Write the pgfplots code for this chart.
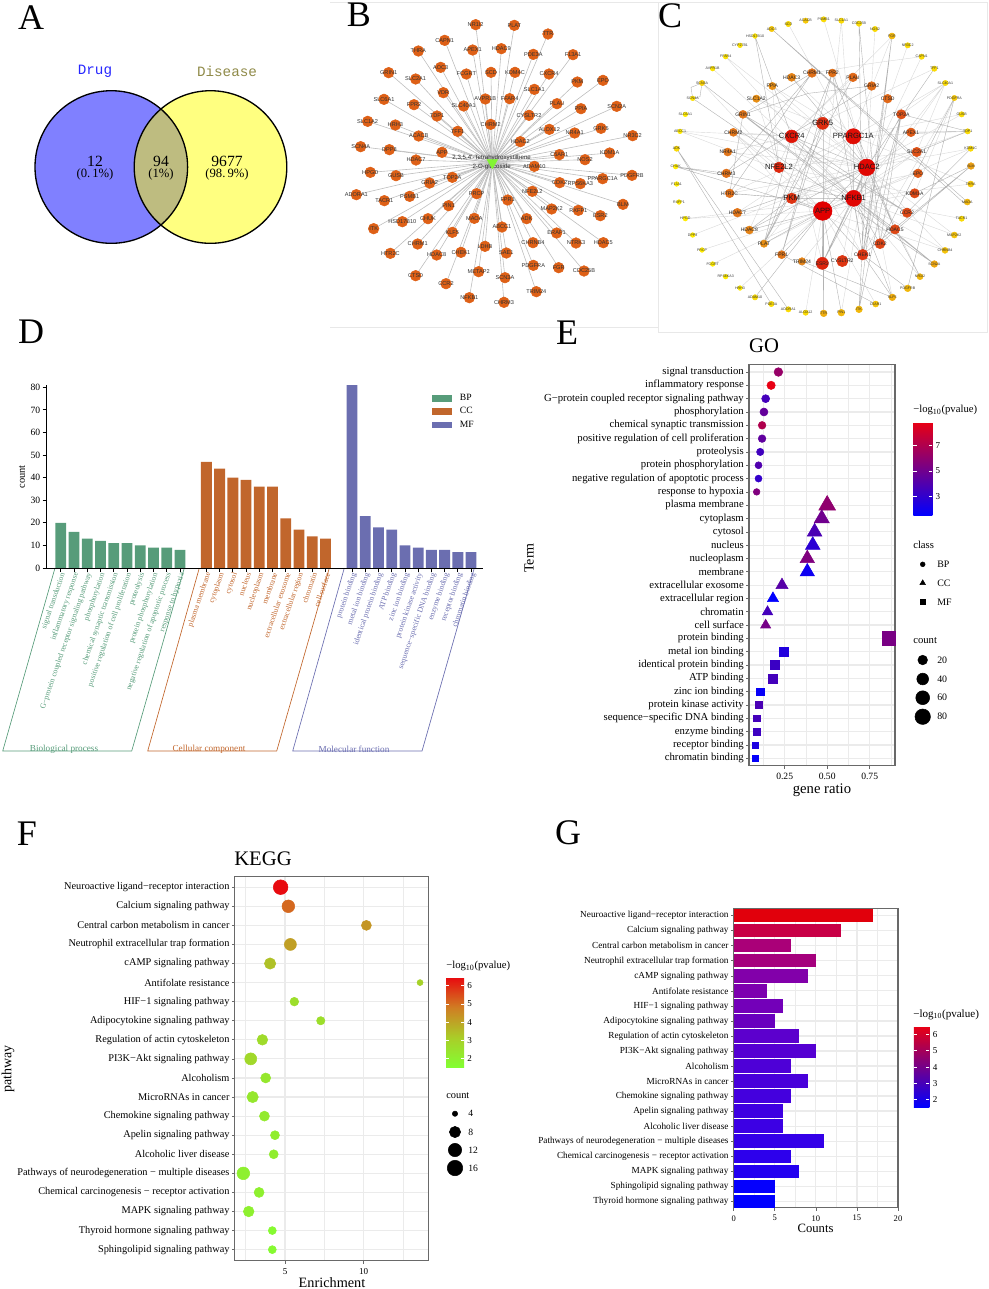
\documentclass[border=0pt]{standalone}
\usepackage{fontspec}
\usepackage{pgfplots}
\usepackage{pgfplotstable}
\pgfplotsset{compat=1.18}
\setmainfont{Liberation Serif}
\setsansfont{Liberation Sans}
\setmonofont{Liberation Mono}
\newcommand\fs[1]{\fontsize{#1}{#1}\selectfont}
\definecolor{bpc}{RGB}{87,156,122}
\definecolor{ccc}{RGB}{193,102,44}
\definecolor{mfc}{RGB}{107,110,176}
\definecolor{edgeB}{RGB}{190,190,190}
\definecolor{nodeB}{RGB}{222,96,22}
\definecolor{gridc}{RGB}{235,235,235}
\definecolor{framec}{RGB}{105,105,105}
\definecolor{frameL}{RGB}{232,232,232}
\definecolor{vennL}{RGB}{128,128,255}
\definecolor{vennR}{RGB}{255,255,128}
\definecolor{vennM}{RGB}{190,188,128}

% panel: x, y of the top left corner, width, height, all in reference pixels
\pgfplotsset{
  /pgf/number format/assume math mode=true,
  panel/.style n args={4}{at={(#1*0.75pt,-#2*0.75pt)},anchor=north west,
    width={#3*0.75pt},height={#4*0.75pt},scale only axis},
  net/.style={hide axis,clip=false,y dir=reverse},
  gg/.style={axis line style={framec,line width=0.9pt},
    tick style={framec,line width=0.5pt},major tick length=2.2pt,minor tick length=0pt,
    tick align=outside,xtick pos=bottom,ytick pos=left,
    grid style={gridc,line width=0.9pt},minor grid style={gridc,line width=0.4pt},
    xmajorgrids,ymajorgrids,xminorgrids,y dir=reverse},
  mk/.style={scatter,only marks,mark=#1,point meta=\thisrow{m},
    scatter/use mapped color={draw=mapped color,fill=mapped color},
    visualization depends on={\thisrow{s} \as \sz},
    scatter/@pre marker code/.append style={/tikz/mark size={\sz*0.25}}},
  lbl/.style n args={2}{only marks,mark=none,nodes near coords,point meta=explicit symbolic,
    nodes near coords style={anchor=center,inner sep=0pt,text=black!#2,font=\sffamily\fs{#1}}},
  dbar/.style={ybar,bar shift=0pt,bar width=8.1pt,draw=none,fill=#1,
    legend image code/.code={\fill[#1] (0pt,-2.5pt) rectangle (14.7pt,2.5pt);}},
  gbar/.style n args={2}{xbar,bar shift=0pt,bar width=10pt,draw=none,fill={rgb,255:red,#1;green,0;blue,#2}},
  cbar/.style={scale only axis,axis line style={draw=none},tick align=inside,
    ytick pos=both,yticklabel pos=right,tick style={white,line width=0.4pt},
    major tick length=2.5pt,yticklabel style={font=\fs{6.8},xshift=-1pt}},
}
\pgfplotsset{colormap={bluered}{rgb255=(0,0,255) rgb255=(232,0,20)}}
\pgfplotsset{colormap={greenred}{rgb255=(130,255,50) rgb255=(170,205,40) rgb255=(208,125,35) rgb255=(232,10,15)}}
\pgfplotsset{colormap={heat}{rgb255=(255,235,0) rgb255=(225,120,25) rgb255=(220,60,20) rgb255=(225,0,0)}}

\pgfplotstableread{
x y name
437 74 NR1I2
553 76 PLAT
654 102 TTR
344 121 CAPN1
428 150 APEX1
514 146 HDAC9
610 163 PDE3A
729 164 F13A1
265 153 THRA
332 202 AOC3
409 222 FCGRT
483 217 SCD
555 217 KDM4C
657 222 CXCR4
176 218 GRIN1
257 237 SLC2A1
819 241 EPO
742 246 PKM
613 268 SLC1A1
340 278 VDR
466 297 AVPR1B
539 296 FFAR4
681 311 PLAU
162 298 SLC6A1
252 314 FPR2
401 318 SLC40A1
753 326 PPIA
860 319 SCN2A
597 346 CYSLTR2
321 348 TDP1
482 373 CHRM2
113 364 SLC1A2
196 375 HRH3
383 394 TFF1
658 388 ALOX12
734 399 NR4A1
813 385 GRK5
266 408 ACACB
571 425 HDAC2
908 407 NR3C2
92 440 SCN4A
178 449 DPP8
336 457 APP
688 464 C5AR1
765 479 NOS2
839 459 KDM1A
258 480 HDAC7
613 499 ADAM10
906 526 PDGFRB
121 517 HPGD
198 527 GUSB
367 532 TOP2A
818 536 PPARGC1A
689 548 CDK2
751 551 RPS6KA3
299 549 GRIA2
79 584 ADORA1
163 602 TACR1
239 589 PSMB1
440 581 PRCP
607 574 NFE2L2
533 600 FPR1
879 613 BLM
356 617 PIN1
665 627 MAP2K2
745 631 RXFP1
811 647 ESR2
217 665 HSD17B10
294 656 CHUK
433 655 MAOA
516 681 ABCC1
590 656 ADK
131 686 ITK
367 697 KLF5
680 699 ERAP1
738 729 NTRK3
820 728 HDAC5
263 732 CHRM1
181 760 HTR2C
320 765 HDAC8
393 757 CHEK1
465 739 LDHB
529 759 SAE1
609 728 CHRNB4
610 796 PDGFRA
686 803 FGR
762 813 CDC25B
257 827 CTSD
348 851 CCR2
446 815 METAP2
525 833 SCN3A
619 875 TRIM24
418 893 NFKB1
522 907 CHRM3
}\Bnodes

\pgfplotstableread{
x y name m s
350 87 AOC3 0.1 8
400 72 SCD 0.05 8
452 62 ACACB 0.1 8
506 58 PSMB1 0.05 8
559 62 SLC1A1 0.05 8
612 71 CDC25B 0.05 8
660 87 NOS2 0.05 8
711 108 FGR 0.15 9
758 136 NR3C2 0.05 8
800 170 CAPN1 0.05 8
838 206 TFF1 0.05 8
871 249 SLC40A1 0.05 8
898 294 PDGFRA 0.1 8
920 343 GUSB 0.05 8
938 394 TDP1 0.05 8
947 446 KDM4C 0.05 8
948 498 BLM 0.22 10
947 552 THRA 0.1 9
937 606 MAOA 0.15 9
920 656 TACR1 0.05 8
898 705 MAP2K2 0.12 9
870 751 CHRNB4 0.12 9
838 792 SCN2A 0.2 10
795 830 NR1I2 0.15 9
758 865 PDGFRB 0.15 10
712 892 KLF5 0.18 10
662 912 C5AR1 0.12 9
612 928 ITK 0.15 10
559 938 PIN1 0.15 10
506 940 TTR 0.18 10
452 938 ALOX12 0.05 8
400 928 ADORA1 0.05 8
349 912 PDE3A 0.05 8
300 892 ADAM10 0.05 8
255 864 HRH3 0 7
212 830 RPS6KA3 0 7
173 792 FCGRT 0 7
141 750 PRCP 0 7
113 705 DPP8 0 7
91 656 HPGD 0 7
72 606 RXFP1 0 7
65 552 F13A1 0 7
62 500 CHUK 0 7
65 446 ADK 0.05 8
75 394 ABCC1 0 7
91 343 SLC6A1 0 7
113 295 SCN4A 0.03 7
141 249 SCN3A 0.08 8
173 206 AVPR1B 0.03 7
212 170 FFAR4 0.03 7
255 136 CYP27B1 0.03 7
300 108 HSD17B10 0.03 7
}\Cring

\pgfplotstableread{
x y name m s
471 219 CHRM1 0.38 13
532 219 FPR2 0.38 12
594 232 PLAU 0.42 13
650 258 GRIA2 0.4 13
698 296 CTSD 0.42 13
739 343 TOP2A 0.55 14
768 397 APEX1 0.5 13
785 456 SLC2A1 0.55 14
789 520 EPO 0.5 13
779 580 KDM1A 0.6 14
756 638 CCR2 0.6 14
720 688 HDAC5 0.6 14
675 731 CDK2 0.62 15
623 764 CHEK1 0.7 16
562 783 CYSLTR2 0.7 17
502 790 ESR2 0.8 18
441 784 TRIM24 0.3 11
380 764 FPR1 0.35 12
327 731 PLAT 0.27 11
283 690 HDAC8 0.3 12
247 638 HDAC7 0.35 13
224 580 HTR2C 0.38 13
214 520 CHRM3 0.38 13
218 456 NR4A1 0.35 12
235 397 CHRM2 0.35 12
264 343 GRIN1 0.35 12
304 296 SLC1A2 0.27 11
352 258 PPIA 0.27 11
410 232 HDAC3 0.3 12
}\Cinner

\pgfplotstableread{
x y name m s
503 370 GRK5 0.75 18
410 409 CXCR4 0.88 19
595 409 PPARGC1A 0.92 23
372 502 NFE2L2 0.78 16
635 502 HDAC2 0.96 25
410 595 PKM 0.72 16
596 595 NFKB1 0.97 24
503 633 APP 1 28
}\Chubs

\pgfplotstableread{
x y m s
0.213 1 6.2 13
0.170 2 8.8 12.5
0.138 3 3.6 12
0.128 4 4.6 12
0.117 5 7.0 11.5
0.117 6 4.5 11.5
0.106 7 3.5 11
0.096 8 4.0 10.5
0.096 9 3.1 10.5
0.085 10 5.5 10
}\Ebp
\pgfplotstableread{
x y m s
0.500 11 6.0 29
0.468 12 5.0 26.5
0.426 13 3.8 25.4
0.415 14 2.8 25.4
0.383 15 5.5 25
0.383 16 1.9 25
0.234 17 4.2 21
0.181 18 1.5 19.5
0.149 19 3.6 18
0.138 20 5.2 17.5
}\Ecc
\pgfplotstableread{
x y m s
0.862 21 5.3 20
0.245 22 2.5 14.5
0.191 23 3.3 14
0.181 24 3.6 13.5
0.106 25 1.7 11
0.096 26 3.8 10.5
0.085 27 3.6 10
0.085 28 3.4 10
0.074 29 2.4 9
0.074 30 1.6 9
}\Emf

\pgfplotstableread{
x y m s
4.72 1 6.46 22
5.21 2 5.1 19
10.17 3 4.3 15
5.34 4 4.1 18
4.05 5 3.4 17
13.58 6 3.0 9
5.59 7 2.6 13
7.27 8 2.6 12.5
3.56 9 2.7 16
2.82 10 2.8 18
3.77 11 2.3 15
2.94 12 2.3 17
3.69 13 2.2 15
4.36 14 2.1 13.5
4.28 15 2.1 13.5
2.35 16 2.0 19
3.35 17 2.0 15
2.69 18 2.0 16
4.19 19 1.7 12
4.19 20 1.7 12
}\Fdata

\begin{document}
\begin{tikzpicture}
\path[use as bounding box] (0,0) rectangle (989*0.75pt,-1289*0.75pt);

% whole page in reference pixels: venn, frames, legends, free text
\begin{axis}[panel={0}{0}{989}{1289},net,xmin=0,xmax=989,ymin=0,ymax=1289]
  \fill[vennL] (axis cs:111.3,167) circle [radius=76.3];
  \fill[vennR] (axis cs:210.5,167) circle [radius=76.3];
  \begin{scope}
    \clip (axis cs:111.3,167) circle [radius=76.3];
    \fill[vennM] (axis cs:210.5,167) circle [radius=76.3];
  \end{scope}
  \draw[line width=1pt] (axis cs:111.3,167) circle [radius=76.3];
  \draw[line width=1pt] (axis cs:210.5,167) circle [radius=76.3];
  \node[text=blue!85!white,font=\ttfamily\fs{10.7}] at (axis cs:95,71) {Drug};
  \node[text=yellow!50!black,font=\ttfamily\fs{10.7}] at (axis cs:227,71) {Disease};
  \node[font=\fs{11.7}] at (axis cs:95,161) {12};
  \node[font=\fs{9.5}] at (axis cs:95,174) {(0.\,1\%)};
  \node[font=\fs{11.7}] at (axis cs:161,161) {94};
  \node[font=\fs{9.5}] at (axis cs:161,174) {(1\%)};
  \node[font=\fs{11.7}] at (axis cs:227,161) {9677};
  \node[font=\fs{9.5}] at (axis cs:227,174) {(98.\,9\%)};

  \draw[frameL,line width=0.6pt] (axis cs:330,2) -- (axis cs:658,2) -- (axis cs:658,327) -- (axis cs:330,327);
  \draw[frameL,line width=0.6pt] (axis cs:658,2) rectangle (axis cs:987,332);

  % panel letters
  \node[font=\fs{27}] at (axis cs:31,18) {A};
  \node[font=\fs{27}] at (axis cs:359,15) {B};
  \node[font=\fs{27}] at (axis cs:670,16) {C};
  \node[font=\fs{27}] at (axis cs:31,332) {D};
  \node[font=\fs{27}] at (axis cs:567,333) {E};
  \node[font=\fs{27}] at (axis cs:27,834) {F};
  \node[font=\fs{27}] at (axis cs:568,833) {G};

  % D: boxes below the categories
  \draw[bpc,line width=0.5pt] (axis cs:55,568) -- (axis cs:2.7,751) -- (axis cs:131.7,751) -- (axis cs:184.3,568);
  \draw[ccc,line width=0.5pt] (axis cs:199.3,568) -- (axis cs:147.7,751) -- (axis cs:276.7,751) -- (axis cs:329.3,568);
  \draw[mfc,line width=0.5pt] (axis cs:344.3,568) -- (axis cs:292.7,751) -- (axis cs:422,751) -- (axis cs:474.3,568);
  \node[text=bpc,font=\fs{6.9}] at (axis cs:64,749.5) {Biological process};
  \node[text=ccc,font=\fs{6.9}] at (axis cs:209,749.5) {Cellular component};
  \node[text=mfc,font=\fs{6.9}] at (axis cs:354,749.5) {Molecular function};
  \node[rotate=90,font=\fs{7.8}] at (axis cs:22,477) {count};

  % E: title, axis labels, legends
  \node[font=\fs{15.5}] at (axis cs:764,346) {GO};
  \node[font=\fs{11}] at (axis cs:822,790) {gene ratio};
  \node[rotate=90,font=\fs{10.5}] at (axis cs:529,558) {Term};
  \node[anchor=west,inner xsep=0pt,font=\fs{8}] at (axis cs:913,410) {−log\textsubscript{10}(pvalue)};
  \node[anchor=west,inner xsep=0pt,font=\fs{8}] at (axis cs:913,545) {class};
  \node[anchor=west,inner xsep=0pt,font=\fs{8}] at (axis cs:913,641) {count};
  \addplot[only marks,mark=*,mark size=1.8pt,black] coordinates {(922.7,564.3)};
  \addplot[only marks,mark=triangle*,mark size=2.4pt,black] coordinates {(922.7,583)};
  \addplot[only marks,mark=square*,mark size=1.7pt,black] coordinates {(922.7,602)};
  \node[anchor=west,inner xsep=0pt,font=\fs{7.4}] at (axis cs:937,564.3) {BP};
  \node[anchor=west,inner xsep=0pt,font=\fs{7.4}] at (axis cs:937,583) {CC};
  \node[anchor=west,inner xsep=0pt,font=\fs{7.4}] at (axis cs:937,602) {MF};
  \addplot[only marks,mark=*,mark size=3.6pt,black] coordinates {(922.7,660)};
  \addplot[only marks,mark=*,mark size=4.4pt,black] coordinates {(922.7,679)};
  \addplot[only marks,mark=*,mark size=5.2pt,black] coordinates {(922.7,697.7)};
  \addplot[only marks,mark=*,mark size=5.8pt,black] coordinates {(922.7,716.7)};
  \node[anchor=west,inner xsep=0pt,font=\fs{7.4}] at (axis cs:937,660) {20};
  \node[anchor=west,inner xsep=0pt,font=\fs{7.4}] at (axis cs:937,679) {40};
  \node[anchor=west,inner xsep=0pt,font=\fs{7.4}] at (axis cs:937,697.7) {60};
  \node[anchor=west,inner xsep=0pt,font=\fs{7.4}] at (axis cs:937,716.7) {80};

  % F: title, axis labels, legends
  \node[font=\fs{15.5}] at (axis cs:263,859) {KEGG};
  \node[font=\fs{10.7}] at (axis cs:332,1283) {Enrichment};
  \node[rotate=90,font=\fs{10.5}] at (axis cs:8,1069) {pathway};
  \node[anchor=west,inner xsep=0pt,font=\fs{8}] at (axis cs:446,966) {−log\textsubscript{10}(pvalue)};
  \node[anchor=west,inner xsep=0pt,font=\fs{7.8}] at (axis cs:446,1096) {count};
  \addplot[only marks,mark=*,mark size=2pt,black] coordinates {(455,1113.7)};
  \addplot[only marks,mark=*,mark size=4.2pt,black] coordinates {(455,1132)};
  \addplot[only marks,mark=*,mark size=5pt,black] coordinates {(455,1150)};
  \addplot[only marks,mark=*,mark size=5.8pt,black] coordinates {(455,1168)};
  \node[anchor=west,inner xsep=0pt,font=\fs{7.2}] at (axis cs:468,1113.7) {4};
  \node[anchor=west,inner xsep=0pt,font=\fs{7.2}] at (axis cs:468,1132) {8};
  \node[anchor=west,inner xsep=0pt,font=\fs{7.2}] at (axis cs:468,1150) {12};
  \node[anchor=west,inner xsep=0pt,font=\fs{7.2}] at (axis cs:468,1168) {16};

  % G
  \node[font=\fs{9.5}] at (axis cs:815.5,1228) {Counts};
  \node[anchor=west,inner xsep=0pt,font=\fs{8.3}] at (axis cs:913,1014.5) {−log\textsubscript{10}(pvalue)};
\end{axis}

% B: coordinates are those of the 3x crop
\begin{axis}[panel={330}{0}{330}{330},net,xmin=0,xmax=990,ymin=0,ymax=990]
  \addplot[edgeB,line width=0.45pt,no markers,quiver={u=487-\thisrow{x},v=488-\thisrow{y}}]
    table[x=x,y=y] {\Bnodes};
  \addplot[only marks,mark=*,mark size=4pt,nodeB] table[x=x,y=y] {\Bnodes};
  \addplot[lbl={4.2}{80}] table[x=x,y=y,meta=name] {\Bnodes};
  \addplot[only marks,mark=triangle*,mark size=4.5pt,mark options={rotate=180},
    color={rgb,255:red,130;green,245;blue,50}] coordinates {(487,488)};
  \node[font=\sffamily\fs{4.6},text=black!85] at (axis cs:485,474) {2,3,5,4'-Tetrahydroxystilbene};
  \node[font=\sffamily\fs{4.6},text=black!85] at (axis cs:485,502) {2-O-glucoside};
\end{axis}

% C: coordinates are those of the 3x crop
\begin{axis}[panel={655}{0}{334}{335},net,xmin=0,xmax=1002,ymin=0,ymax=1005,
    colormap name=heat,point meta min=0,point meta max=1]
  % weak interactions
  \addplot[black!15,line width=0.3pt,no markers,line join=bevel,unbounded coords=jump] coordinates {
    (596,595)(212,170)(596,595)(173,206)(596,595)(75,394)(596,595)(91,656)(596,595)(898,705)
    (596,595)(920,656)(596,595)(947,552)(596,595)(871,249)(596,595)(758,136)(596,595)(559,62)
    (596,595)(800,170)(596,595)(785,456)(596,595)(768,397)(596,595)(789,520)(596,595)(947,446)
    (596,595)(327,731)(596,595)(441,784)(596,595)(562,783)(596,595)(870,751)(596,595)(795,830)
    (nan,nan)
    (635,502)(352,258)(635,502)(304,296)(635,502)(218,456)(635,502)(235,397)(635,502)(224,580)
    (635,502)(660,87)(635,502)(506,58)(635,502)(920,343)(635,502)(938,394)(635,502)(947,446)
    (635,502)(898,705)(635,502)(870,751)(635,502)(795,830)(635,502)(712,892)(635,502)(559,938)
    (635,502)(400,72)(635,502)(212,170)(635,502)(73,394)(635,502)(113,705)
    (nan,nan)
    (503,633)(218,456)(503,633)(235,397)(503,633)(91,656)(503,633)(141,750)(503,633)(173,792)
    (503,633)(785,456)(503,633)(789,520)(503,633)(779,580)(503,633)(870,751)(503,633)(662,912)
    (503,633)(452,938)(503,633)(255,864)(503,633)(141,249)(503,633)(559,62)(503,633)(711,108)
    (nan,nan)
    (595,409)(304,296)(595,409)(352,258)(595,409)(410,232)(595,409)(871,249)(595,409)(938,394)
    (595,409)(920,343)(595,409)(947,552)(595,409)(327,731)(595,409)(224,580)(595,409)(247,638)
    (nan,nan)
    (410,409)(712,108)(410,409)(594,232)(410,409)(838,206)(410,409)(218,456)(410,409)(75,394)
    (410,409)(235,397)(410,409)(283,690)(410,409)(502,790)(410,409)(623,764)
    (nan,nan)
    (800,170)(650,190)(471,219)(nan,nan)
    (871,249)(739,343)(871,249)(768,397)(871,249)(785,456)(nan,nan)
    (898,294)(779,580)(898,294)(623,764)(nan,nan)
    (372,502)(235,397)(372,502)(304,296)(372,502)(785,456)(372,502)(779,580)(372,502)(352,258)
    (nan,nan)
    (410,595)(785,456)(410,595)(789,520)(410,595)(224,580)(410,595)(235,397)(410,595)(675,731)
  };
  % strong interactions
  \addplot[black!30,line width=0.3pt,no markers,line join=bevel,unbounded coords=jump] coordinates {
    (65,446)(349,912)(nan,nan)(65,446)(400,928)(nan,nan)
    (62,500)(596,595)(62,500)(503,633)(nan,nan)
    (113,295)(838,792)(nan,nan)(141,249)(838,792)(nan,nan)
    (141,249)(108,262)(113,295)(nan,nan)(141,249)(135,290)(113,295)(nan,nan)
    (264,343)(756,638)(264,343)(596,595)(nan,nan)
    (350,87)(937,606)(nan,nan)(350,87)(930,612)(nan,nan)
    (300,108)(410,409)(300,108)(372,502)(nan,nan)
    (612,71)(675,731)(612,71)(623,764)(nan,nan)
    (711,108)(612,928)(711,108)(623,764)(nan,nan)
    (898,294)(758,865)(nan,nan)(898,294)(675,731)(nan,nan)
    (948,498)(623,764)(948,498)(675,731)(nan,nan)
    (471,219)(214,520)(471,219)(264,343)(471,219)(224,580)(nan,nan)
    (532,219)(327,731)(532,219)(380,764)(532,219)(720,688)(532,219)(623,764)(nan,nan)
    (503,370)(327,731)(503,370)(380,764)(nan,nan)
    (594,232)(327,731)(nan,nan)
    (650,258)(460,280)(264,343)(nan,nan)(650,258)(214,520)(nan,nan)
    (698,296)(623,764)(nan,nan)
    (739,343)(612,928)(739,343)(675,731)(739,343)(502,790)(739,343)(623,764)(nan,nan)
    (739,343)(938,394)(nan,nan)(768,397)(938,394)(nan,nan)(785,456)(938,394)(nan,nan)
    (838,206)(635,502)(nan,nan)
    (503,633)(502,790)(503,633)(506,940)(503,633)(559,938)(503,633)(300,892)(503,633)(380,764)
    (503,633)(283,690)(503,633)(327,731)(503,633)(623,764)(nan,nan)
    (596,595)(838,792)(596,595)(720,688)(596,595)(675,731)(596,595)(623,764)(596,595)(502,790)
    (596,595)(410,595)(596,595)(503,633)(596,595)(635,502)(596,595)(595,409)(596,595)(712,892)(nan,nan)
    (635,502)(720,688)(635,502)(247,638)(635,502)(283,690)(635,502)(410,232)(635,502)(410,409)
    (635,502)(595,409)(635,502)(503,633)(635,502)(502,790)(635,502)(612,928)(nan,nan)
    (410,595)(503,633)(410,595)(283,690)(410,595)(224,580)(nan,nan)
    (214,520)(62,500)(nan,nan)
    (410,409)(327,731)(410,409)(596,595)(410,409)(756,638)(nan,nan)
    (623,764)(712,892)(623,764)(758,865)(nan,nan)
    (441,784)(712,892)(nan,nan)(380,764)(662,912)(nan,nan)
    (795,830)(720,688)(nan,nan)
    (506,370)(506,940)(nan,nan)
    (264,343)(224,580)(nan,nan)(214,520)(650,258)(nan,nan)
    (779,580)(948,498)(nan,nan)(756,638)(947,446)
  };
  \addplot[mk=*] table[x=x,y=y] {\Cring};
  \addplot[mk=*] table[x=x,y=y] {\Cinner};
  \addplot[mk=*] table[x=x,y=y] {\Chubs};
  \addplot[lbl={2.7}{80}] table[x=x,y=y,meta=name] {\Cring};
  \addplot[lbl={3.8}{85}] table[x=x,y=y,meta=name] {\Cinner};
  \addplot[lbl={5.7}{90}] table[x=x,y=y,meta=name] {\Chubs};
\end{axis}

% D
\begin{axis}[panel={46.5}{385}{436.5}{183},xmin=-1.08,xmax=31.9,ymin=0,ymax=81,
    axis x line=bottom,axis y line=left,axis line style={-,line width=0.7pt},
    tick style={black,line width=0.6pt},major tick length=3pt,tick align=outside,
    xtick={0,...,9,11,12,...,20,22,23,...,31},
    xticklabels={\textcolor{bpc}{signal transduction},\textcolor{bpc}{inflammatory response},
      \textcolor{bpc}{G−protein coupled receptor signaling pathway},\textcolor{bpc}{phosphorylation},
      \textcolor{bpc}{chemical synaptic transmission},\textcolor{bpc}{positive regulation of cell proliferation},
      \textcolor{bpc}{proteolysis},\textcolor{bpc}{protein phosphorylation},
      \textcolor{bpc}{negative regulation of apoptotic process},\textcolor{bpc}{response to hypoxia},
      \textcolor{ccc}{plasma membrane},\textcolor{ccc}{cytoplasm},\textcolor{ccc}{cytosol},\textcolor{ccc}{nucleus},
      \textcolor{ccc}{nucleoplasm},\textcolor{ccc}{membrane},\textcolor{ccc}{extracellular exosome},
      \textcolor{ccc}{extracellular region},\textcolor{ccc}{chromatin},\textcolor{ccc}{cell surface},
      \textcolor{mfc}{protein binding},\textcolor{mfc}{metal ion binding},\textcolor{mfc}{identical protein binding},
      \textcolor{mfc}{ATP binding},\textcolor{mfc}{zinc ion binding},\textcolor{mfc}{protein kinase activity},
      \textcolor{mfc}{sequence−specific DNA binding},\textcolor{mfc}{enzyme binding},
      \textcolor{mfc}{receptor binding},\textcolor{mfc}{chromatin binding}},
    xticklabel style={rotate=71,anchor=east,font=\fs{5.8},inner sep=1pt,xshift=1pt,yshift=-2pt},
    ytick={0,10,...,80},yticklabel style={font=\fs{7.2},inner sep=1.5pt},
    legend style={at={(axis cs:28.05,78.3)},anchor=north west,draw=none,fill=none,
      font=\fs{7.2},row sep=-0.2pt,inner sep=0pt,
      /tikz/every odd column/.append style={column sep=4pt}},legend cell align=left]
  \addplot[dbar=bpc] coordinates {(0,20)(1,16)(2,13)(3,12)(4,11)(5,11)(6,10)(7,9)(8,9)(9,8)};
  \addlegendentry{BP}
  \addplot[dbar=ccc] coordinates {(11,47)(12,44)(13,40)(14,39)(15,36)(16,36)(17,22)(18,17)(19,14)(20,13)};
  \addlegendentry{CC}
  \addplot[dbar=mfc] coordinates {(22,81)(23,23)(24,18)(25,17)(26,10)(27,9)(28,8)(29,8)(30,7)(31,7)};
  \addlegendentry{MF}
\end{axis}

% E
\begin{axis}[panel={749}{364.3}{146}{401.4},gg,xmin=0.04,xmax=0.899,ymin=0.42,ymax=30.56,
    xtick={0.25,0.5,0.75},minor xtick={0.125,0.375,0.625,0.875},
    xticklabel style={font=\fs{7.2},/pgf/number format/.cd,fixed,fixed zerofill,precision=2},
    ytick={1,...,30},
    yticklabels={signal transduction,inflammatory response,G−protein coupled receptor signaling pathway,
      phosphorylation,chemical synaptic transmission,positive regulation of cell proliferation,proteolysis,
      protein phosphorylation,negative regulation of apoptotic process,response to hypoxia,plasma membrane,
      cytoplasm,cytosol,nucleus,nucleoplasm,membrane,extracellular exosome,extracellular region,chromatin,
      cell surface,protein binding,metal ion binding,identical protein binding,ATP binding,zinc ion binding,
      protein kinase activity,sequence−specific DNA binding,enzyme binding,receptor binding,chromatin binding},
    yticklabel style={font=\fs{8.05},inner sep=1.5pt},
    colormap name=bluered,point meta min=1.47,point meta max=8.84,
    colorbar,colorbar style={cbar,at={(parent axis.north east)},anchor=north west,xshift=5.2pt,yshift=-43.5pt,
      width=14.25pt,height=70pt,ytick={3,5,7}}]
  \addplot[mk=*] table[x=x,y=y] {\Ebp};
  \addplot[mk=triangle*] table[x=x,y=y] {\Ecc};
  \addplot[mk=square*] table[x=x,y=y] {\Emf};
\end{axis}

% F
\begin{axis}[panel={234.7}{876.7}{194}{384},gg,xmin=1.8,xmax=14.13,ymin=0.45,ymax=20.58,
    xtick={5,10},minor xtick={2.5,7.5,12.5},xticklabel style={font=\fs{6.8}},
    ytick={1,...,20},
    yticklabels={Neuroactive ligand−receptor interaction,Calcium signaling pathway,Central carbon metabolism in cancer,
      Neutrophil extracellular trap formation,cAMP signaling pathway,Antifolate resistance,HIF−1 signaling pathway,
      Adipocytokine signaling pathway,Regulation of actin cytoskeleton,PI3K−Akt signaling pathway,Alcoholism,
      MicroRNAs in cancer,Chemokine signaling pathway,Apelin signaling pathway,Alcoholic liver disease,
      Pathways of neurodegeneration − multiple diseases,Chemical carcinogenesis − receptor activation,
      MAPK signaling pathway,Thyroid hormone signaling pathway,Sphingolipid signaling pathway},
    yticklabel style={font=\fs{7.75},inner sep=1.5pt},
    colormap name=greenred,point meta min=1.52,point meta max=6.46,
    colorbar,colorbar style={cbar,at={(parent axis.north east)},anchor=north west,xshift=4.5pt,yshift=-75.5pt,
      width=13.5pt,height=67.5pt,ytick={2,3,4,5,6}}]
  \addplot[mk=*] table[x=x,y=y] {\Fdata};
\end{axis}

% G
\begin{axis}[panel={733.7}{908.7}{164.3}{299},gg,xmin=0,xmax=20,ymin=0.534,ymax=20.43,
    xtick={0,5,10,15,20},minor xtick={2.5,7.5,12.5,17.5},xticklabel style={font=\fs{6.4}},
    ytick={1,...,20},
    yticklabels={Neuroactive ligand−receptor interaction,Calcium signaling pathway,Central carbon metabolism in cancer,
      Neutrophil extracellular trap formation,cAMP signaling pathway,Antifolate resistance,HIF−1 signaling pathway,
      Adipocytokine signaling pathway,Regulation of actin cytoskeleton,PI3K−Akt signaling pathway,Alcoholism,
      MicroRNAs in cancer,Chemokine signaling pathway,Apelin signaling pathway,Alcoholic liver disease,
      Pathways of neurodegeneration − multiple diseases,Chemical carcinogenesis − receptor activation,
      MAPK signaling pathway,Sphingolipid signaling pathway,Thyroid hormone signaling pathway},
    yticklabel style={font=\fs{6.95},inner sep=1.5pt},
    colormap name=bluered,point meta min=1.53,point meta max=6.47,
    colorbar,colorbar style={cbar,at={(parent axis.north east)},anchor=north west,xshift=3.3pt,yshift=-88.5pt,
      width=11.7pt,height=60.5pt,ytick={2,3,4,5,6}}]
  \addplot[gbar={225}{12}] coordinates {(17,1)};
  \addplot[gbar={200}{70}] coordinates {(13,2)};
  \addplot[gbar={170}{120}] coordinates {(7,3)};
  \addplot[gbar={165}{125}] coordinates {(10,4)};
  \addplot[gbar={130}{170}] coordinates {(9,5)};
  \addplot[gbar={125}{175}] coordinates {(4,6)};
  \addplot[gbar={115}{185}] coordinates {(6,7)};
  \addplot[gbar={105}{190}] coordinates {(5,8)};
  \addplot[gbar={92}{205}] coordinates {(8,9)};
  \addplot[gbar={85}{210}] coordinates {(10,10)};
  \addplot[gbar={78}{215}] coordinates {(7,11)};
  \addplot[gbar={72}{218}] coordinates {(9,12)};
  \addplot[gbar={68}{222}] coordinates {(7,13)};
  \addplot[gbar={62}{225}] coordinates {(6,14)};
  \addplot[gbar={60}{228}] coordinates {(6,15)};
  \addplot[gbar={52}{232}] coordinates {(11,16)};
  \addplot[gbar={45}{236}] coordinates {(7,17)};
  \addplot[gbar={35}{240}] coordinates {(8,18)};
  \addplot[gbar={5}{253}] coordinates {(5,19)};
  \addplot[gbar={0}{255}] coordinates {(5,20)};
\end{axis}
\end{tikzpicture}
\end{document}
